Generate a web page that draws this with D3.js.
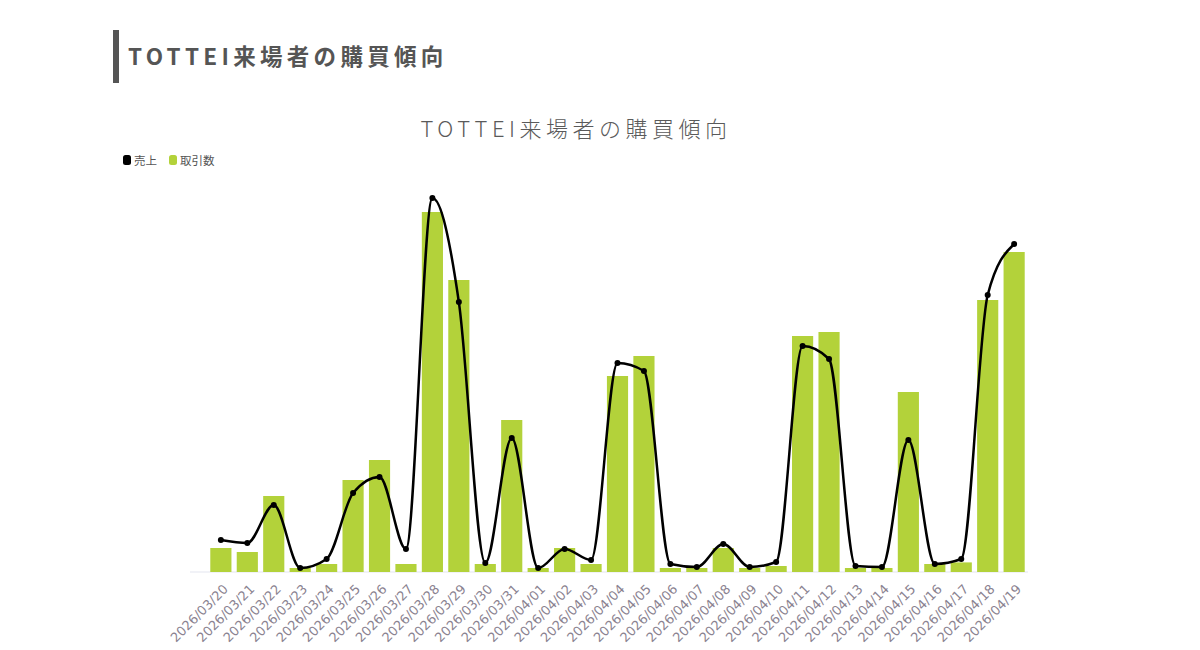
<!DOCTYPE html>
<html>
<head>
<meta charset="utf-8">
<script src="https://cdn.jsdelivr.net/npm/d3@7"></script>
<style>
  body { margin: 0; background: #fff; }
  svg { display: block; }
</style>
</head>
<body>
<div id="chart"></div>
<script>
// dates on the x axis
const dates = [
  "2026/03/20", "2026/03/21", "2026/03/22", "2026/03/23", "2026/03/24", "2026/03/25",
  "2026/03/26", "2026/03/27", "2026/03/28", "2026/03/29", "2026/03/30", "2026/03/31",
  "2026/04/01", "2026/04/02", "2026/04/03", "2026/04/04", "2026/04/05", "2026/04/06",
  "2026/04/07", "2026/04/08", "2026/04/09", "2026/04/10", "2026/04/11", "2026/04/12",
  "2026/04/13", "2026/04/14", "2026/04/15", "2026/04/16", "2026/04/17", "2026/04/18",
  "2026/04/19"
];
// 取引数 (bars)
const transactions = [
  6, 5, 19, 1, 2, 23, 28, 2, 90, 73, 2, 38, 1, 6, 2, 49,
  54, 1, 1, 6, 1, 1.5, 59, 60, 1, 1, 45, 2, 2.4, 68, 80
];
// 売上 (line)
const sales = [
  32000, 29000, 67000, 4000, 13000, 79000, 95000, 23000, 374000, 270000, 9000,
  134000, 4000, 23000, 12000, 209000, 201000, 8000, 5000, 28000, 5000, 10000,
  226000, 213000, 6000, 5000, 132000, 8000, 13000, 277000, 328000
];
const legendLabels = ["売上", "取引数"];
const titleText = "TOTTEI来場者の購買傾向";

const width = 1200, height = 650;
const green = "#b3d23a";
const jp = "'Noto Sans CJK JP', 'Noto Sans', sans-serif";

const svg = d3.select("#chart").append("svg")
    .attr("width", width)
    .attr("height", height);

// page heading with side bar
svg.append("rect")
    .attr("x", 113).attr("y", 30)
    .attr("width", 6).attr("height", 53)
    .attr("fill", "#555");

svg.append("text")
    .attr("x", 128).attr("y", 65)
    .style("font-family", jp)
    .style("font-size", "22.5px")
    .style("font-weight", "bold")
    .style("letter-spacing", "4.3px")
    .attr("fill", "#555")
    .text(titleText);

// chart title
svg.append("text")
    .attr("x", 576).attr("y", 137)
    .attr("text-anchor", "middle")
    .style("font-family", jp)
    .style("font-size", "22px")
    .style("font-weight", "300")
    .style("letter-spacing", "4.5px")
    .attr("fill", "#5a5a5a")
    .text(titleText);

// legend
const legend = svg.append("g").attr("transform", "translate(123,155)");
const legendColors = ["#000", green];
const legendX = [0, 46];
legendLabels.forEach((lab, i) => {
  const g = legend.append("g").attr("transform", `translate(${legendX[i]},0)`);
  g.append("rect").attr("width", 8).attr("height", 10).attr("rx", 2.5)
      .attr("fill", legendColors[i]);
  g.append("text").attr("x", 11).attr("y", 9.5)
      .style("font-family", jp).style("font-size", "11.5px")
      .attr("fill", "#555")
      .text(lab);
});

// scales
const x = d3.scaleBand()
    .domain(dates)
    .range([205, 1030])
    .paddingInner(0.2)
    .paddingOuter(0.2);

const yBar = d3.scaleLinear().domain([0, 100]).range([572, 172]);
const yLine = d3.scaleLinear().domain([0, 400000]).range([572, 172]);

// faint baseline
svg.append("line")
    .attr("x1", 190).attr("x2", 1028)
    .attr("y1", yBar(0)).attr("y2", yBar(0))
    .attr("stroke", "#eceef4")
    .attr("stroke-width", 1.5);

// bars
svg.append("g").selectAll("rect")
  .data(dates)
  .join("rect")
    .attr("x", d => x(d))
    .attr("y", (d, i) => yBar(transactions[i]))
    .attr("width", x.bandwidth())
    .attr("height", (d, i) => yBar(0) - yBar(transactions[i]))
    .attr("fill", green);

// sales line
const line = d3.line()
    .x((d, i) => x(dates[i]) + x.bandwidth() / 2)
    .y(d => yLine(d))
    .curve(d3.curveMonotoneX);

svg.append("path")
    .datum(sales)
    .attr("fill", "none")
    .attr("stroke", "#000")
    .attr("stroke-width", 2.5)
    .attr("d", line);

svg.append("g").selectAll("circle")
  .data(sales)
  .join("circle")
    .attr("cx", (d, i) => x(dates[i]) + x.bandwidth() / 2)
    .attr("cy", d => yLine(d))
    .attr("r", 3)
    .attr("fill", "#000");

// x axis labels
const xAxis = g => g
    .attr("transform", `translate(0,${yBar(0)})`)
    .call(d3.axisBottom(x).tickSize(0).tickPadding(0))
    .call(g => g.select(".domain").remove());

svg.append("g")
    .call(xAxis)
    .selectAll("text")
      .attr("text-anchor", "end")
      .attr("dx", 0)
      .attr("dy", 0)
      .attr("transform", "translate(8,18) rotate(-45)")
      .style("font-family", "'DejaVu Sans', Verdana, sans-serif")
      .style("font-size", "13px")
      .attr("fill", "#8a8290");
</script>
</body>
</html>
